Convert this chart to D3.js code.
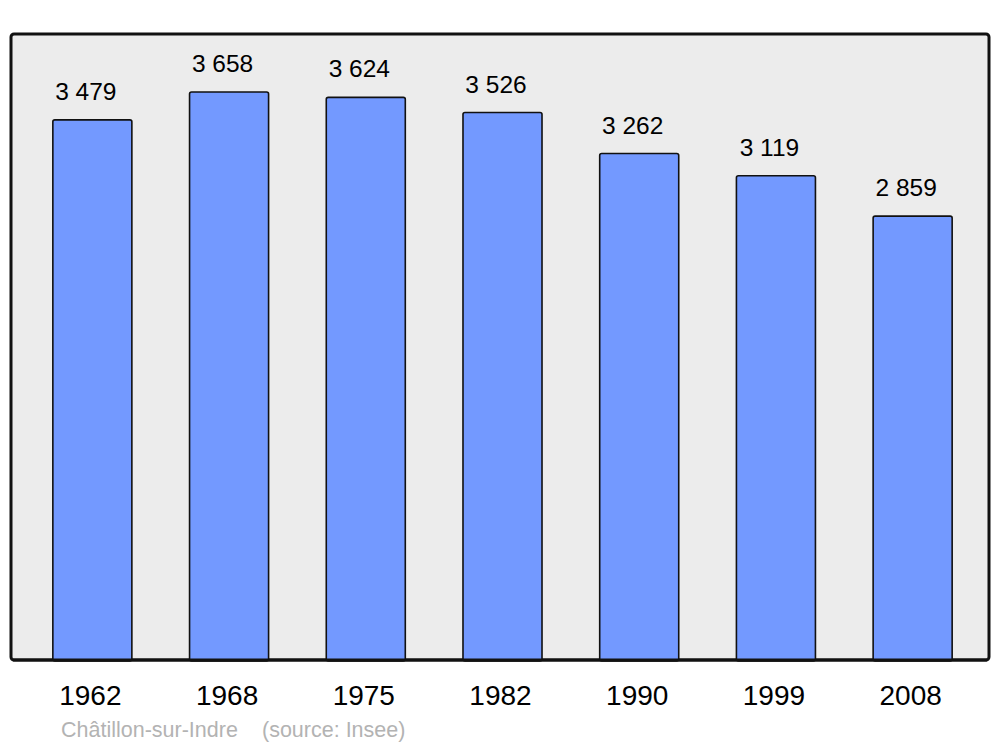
<!DOCTYPE html>
<html><head><meta charset="utf-8">
<script src="https://cdn.jsdelivr.net/npm/d3@7"></script>
<style>body{margin:0;background:#fff}svg{display:block}</style>
</head><body>
<script>
const years = ["1962","1968","1975","1982","1990","1999","2008"];
const population = [3479,3658,3624,3526,3262,3119,2859];
const valueLabels = ["3 479","3 658","3 624","3 526","3 262","3 119","2 859"];
const footerName = "Châtillon-sur-Indre";
const footerSource = "(source: Insee)";

const W=1000,H=747;
const svg=d3.select("body").append("svg").attr("width",W).attr("height",H);
const font="Liberation Sans, Arial, sans-serif";

const frame={x0:11,y0:34,x1:989,y1:660};
svg.append("rect").attr("x",frame.x0).attr("y",frame.y0)
  .attr("width",frame.x1-frame.x0).attr("height",frame.y1-frame.y0)
  .attr("rx",3).attr("fill","#ececec").attr("stroke","#111").attr("stroke-width",3);

const x=d3.scaleBand().domain(years).range([24,981]).paddingInner(0.422).paddingOuter(0.211);
const y=d3.scaleLinear().domain([0,4032]).range([frame.y1,frame.y0]);

const data=years.map((yr,i)=>({yr,v:population[i],lab:valueLabels[i]}));

svg.selectAll("rect.bar").data(data).join("rect").attr("class","bar")
  .attr("x",d=>x(d.yr)).attr("y",d=>y(d.v))
  .attr("width",x.bandwidth()).attr("height",d=>y(0)-y(d.v)+1)
  .attr("rx",2).attr("fill","#7399ff").attr("stroke","#111").attr("stroke-width",1.6);

svg.append("line").attr("x1",frame.x0+2).attr("x2",frame.x1-2).attr("y1",frame.y1).attr("y2",frame.y1)
  .attr("stroke","#111").attr("stroke-width",3);

svg.selectAll("text.val").data(data).join("text").attr("class","val")
  .attr("x",d=>x(d.yr)+x.bandwidth()/2-6.5).attr("y",d=>y(d.v)-20)
  .attr("text-anchor","middle").attr("font-family",font).attr("font-size",24.5)
  .attr("fill","#000").text(d=>d.lab);

const xAxis=d3.axisBottom(x).tickSize(0).tickPadding(0);
const gx=svg.append("g").attr("transform",`translate(-2,${frame.y1})`).call(xAxis);
gx.select(".domain").remove();
gx.selectAll("text").attr("font-family",font).attr("font-size",28).attr("fill","#000")
  .attr("dy",null).attr("y",45);

svg.append("text").attr("x",61).attr("y",737).attr("font-family",font).attr("font-size",21.5)
  .attr("fill","#b3b3b3").text(footerName);
svg.append("text").attr("x",262).attr("y",737).attr("font-family",font).attr("font-size",21.5)
  .attr("fill","#b3b3b3").text(footerSource);
</script>
</body></html>
